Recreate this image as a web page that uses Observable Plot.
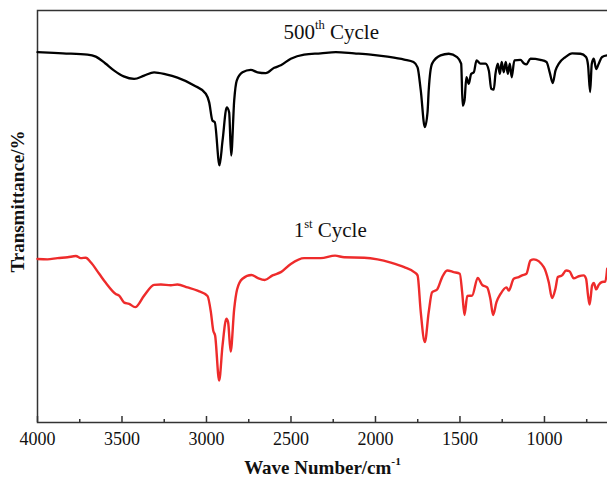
<!DOCTYPE html>
<html><head><meta charset="utf-8">
<script src="https://cdn.jsdelivr.net/npm/d3@7"></script>
<script src="https://cdn.jsdelivr.net/npm/@observablehq/plot@0.6"></script>
<style>body{margin:0;overflow:hidden;background:#fff}</style>
</head><body><div id="chart"></div>
<script>
// 500th cycle spectrum (wavenumber cm-1, transmittance a.u.)
const cycle500Wn = [4000,3850,3704,3655,3600,3546,3490,3428,3369,3310,3240,3172,3073,3004,2984,2965,2951,2923,2905,2880,
  2866,2854,2836,2821,2787,2738,2698,2649,2599,2560,2501,2422,2324,2235,2126,2028,1929,1830,1775,1751,
  1732,1708,1692,1685,1665,1615,1566,1517,1493,1484,1473,1462,1448,1434,1418,1402,1379,1349,1329,1315,
  1300,1290,1276,1264,1253,1241,1229,1217,1205,1194,1178,1142,1123,1107,1083,1024,988,969,951,935,
  915,876,836,787,754,742,730,720,708,694,679,659,629];
const cycle500T = [89.9,89.6,89.3,88.8,87.2,85.4,84.0,83.4,84.2,85.0,84.5,83.7,81.8,79.8,77.7,73.3,72.9,62.4,68.4,76.5,
  75.3,64.8,78.2,83.0,85.0,85.6,85.0,84.8,86.1,86.7,88.3,89.3,89.6,89.9,89.6,89.3,88.8,88.1,87.5,86.2,
  80.6,71.7,75.3,80.6,87.1,89.1,89.5,88.7,87.1,76.9,78.2,83.8,82.2,84.6,85.0,87.9,87.1,87.1,85.4,81.0,
  80.8,84.6,87.1,84.6,87.5,85.0,87.5,84.6,87.1,83.8,87.9,88.0,87.2,86.9,88.3,88.0,87.5,85.0,82.4,85.4,
  87.1,88.7,89.6,89.5,88.7,86.7,80.2,87.1,88.3,85.8,87.1,88.7,89.1];

// 1st cycle spectrum
const cycle1Wn = [4000,3941,3882,3822,3773,3744,3714,3685,3635,3596,3537,3517,3487,3458,3422,3369,3310,3270,3211,3172,
  3112,3053,2994,2974,2960,2949,2925,2905,2882,2872,2857,2836,2819,2787,2734,2698,2655,2609,2560,2501,
  2422,2324,2239,2185,2067,1988,1909,1830,1771,1751,1732,1708,1685,1665,1635,1605,1576,1537,1501,1487,
  1473,1457,1428,1395,1369,1339,1320,1304,1284,1260,1225,1211,1182,1152,1132,1107,1083,1063,1004,975,
  955,935,921,896,872,852,827,797,768,754,742,733,718,708,694,679,659,640,629];
const cycle1T = [39.7,39.6,39.9,40.1,40.4,39.9,40.0,38.9,36.1,33.9,31.2,30.8,29.1,28.8,28.0,30.8,33.4,33.5,33.3,33.5,
  32.8,32.0,30.7,26.8,22.3,21.1,10.2,18.7,25.2,24.3,17.2,27.6,32.3,34.9,35.8,35.1,34.6,35.7,36.5,38.5,
  39.9,39.9,40.5,40.1,40.0,39.6,38.8,37.7,36.5,35.7,26.8,19.5,26.8,31.6,32.3,35.3,36.9,36.5,36.1,31.6,
  26.1,30.7,30.8,35.1,33.4,32.8,30.0,26.1,29.2,31.2,32.8,32.0,34.9,35.3,35.7,36.1,39.3,39.6,37.7,34.1,
  30.2,32.5,35.3,35.7,36.9,36.7,35.0,35.5,35.7,34.9,30.8,28.6,33.3,33.9,32.3,33.4,34.1,34.2,37.3];

const majorTicks = [4000,3500,3000,2500,2000,1500,1000];
const minorTicks = [3750,3250,2750,2250,1750,1250,750];
const seriesLabels = ["500th Cycle", "1st Cycle"];
const labelWn = [2262, 2268];
const labelT = [93.2, 45.0];
const xLabel = "Wave Number/cm-1";
const yLabel = "Transmittance/%";

const s500 = cycle500Wn.map((w, i) => ({w, t: cycle500T[i]}));
const s1 = cycle1Wn.map((w, i) => ({w, t: cycle1T[i]}));

const plot = Plot.plot({
  width: 607, height: 477,
  marginLeft: 37, marginRight: 0, marginTop: 10, marginBottom: 55,
  style: {fontFamily: "'Liberation Serif','Times New Roman',serif", fontSize: "18px", background: "#fff", color: "#111"},
  x: {domain: [4000, 627], label: null},
  y: {domain: [0, 100], label: null, axis: null},
  marks: [
    Plot.frame({stroke: "#333", strokeWidth: 1.5, insetRight: -5}),
    Plot.tickX(majorTicks, {x: d => d, insetTop: 406, stroke: "#333", strokeWidth: 1.5}),
    Plot.tickX(minorTicks, {x: d => d, insetTop: 409, stroke: "#333", strokeWidth: 1.5}),
    Plot.axisX(majorTicks, {tickSize: 0, tickPadding: 10, tickFormat: d => String(d), label: null, fill: "#111"}),
    Plot.line(s500, {x: "w", y: "t", stroke: "#000", strokeWidth: 2.3, curve: "monotone-x"}),
    Plot.line(s1, {x: "w", y: "t", stroke: "#ee2b2b", strokeWidth: 2.4, curve: "monotone-x"}),
    Plot.text(seriesLabels, {x: (d, i) => labelWn[i], y: (d, i) => labelT[i], text: d => d,
      fontSize: 21, lineAnchor: "bottom", textAnchor: "middle", fill: "#111"}),
    Plot.text([xLabel], {frameAnchor: "bottom", text: d => d, dy: 51, lineAnchor: "bottom",
      fontWeight: "bold", fontSize: 19, fill: "#111"}),
    Plot.text([yLabel], {frameAnchor: "left", text: d => d, rotate: -90, dx: -20, dy: -15,
      textAnchor: "middle", fontWeight: "bold", fontSize: 19, fill: "#111"})
  ]
});

// superscripts
d3.select(plot).selectAll("text").each(function() {
  const t = this.textContent;
  const m = t.match(/^(\d+)(th|st)(\s.*)$/) || t.match(/^(.*cm)(-1)$/);
  if (!m) return;
  const el = d3.select(this);
  el.text(null);
  el.append("tspan").text(m[1]);
  el.append("tspan").attr("font-size", "60%").attr("dy", "-0.75em").text(m[2]);
  if (m[3]) el.append("tspan").attr("dy", "0.45em").text(m[3]);
});

document.getElementById("chart").appendChild(plot);
</script>
</body></html>
